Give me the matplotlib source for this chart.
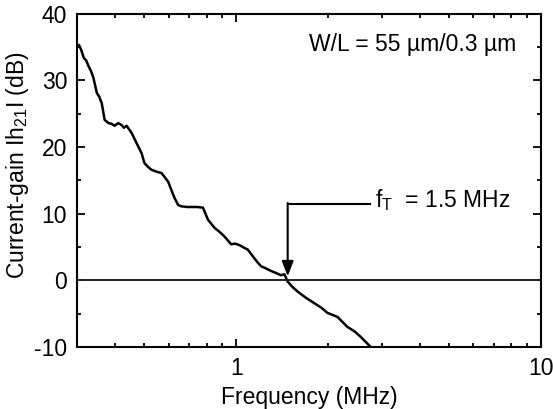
import numpy as np
import matplotlib.pyplot as plt
from matplotlib.ticker import FixedLocator, LogLocator, MultipleLocator, NullFormatter

plt.rcParams['font.family'] = ['Liberation Sans', 'DejaVu Sans']
plt.rcParams['mathtext.fontset'] = 'custom'
plt.rcParams['mathtext.rm'] = 'Liberation Sans'
plt.rcParams['mathtext.it'] = 'Liberation Sans:italic'
plt.rcParams['axes.unicode_minus'] = False

# measured |h21| vs frequency
freq_mhz = [0.305, 0.310, 0.316, 0.322, 0.328, 0.334, 0.340, 0.349, 0.355, 0.362,
            0.370, 0.381, 0.390, 0.399, 0.410, 0.421, 0.428, 0.437, 0.454, 0.471,
            0.489, 0.500, 0.514, 0.527, 0.548, 0.569, 0.598, 0.627, 0.645, 0.661,
            0.690, 0.713, 0.745, 0.778, 0.808, 0.848, 0.880, 0.914, 0.963, 0.990,
            1.023, 1.060, 1.092, 1.134, 1.170, 1.207, 1.250, 1.301, 1.350, 1.403,
            1.440, 1.476, 1.530, 1.591, 1.690, 1.798, 1.900, 1.994, 2.149, 2.317,
            2.450, 2.562, 2.680, 2.762]
gain_db = [35.3, 34.6, 33.4, 33.0, 32.1, 31.4, 30.4, 28.1, 27.6, 26.6,
           24.1, 23.6, 23.5, 23.2, 23.6, 23.3, 22.9, 23.2, 22.1, 20.6,
           19.1, 17.6, 17.0, 16.6, 16.3, 16.1, 14.8, 12.4, 11.3, 11.1,
           11.0, 11.0, 11.0, 10.9, 9.1, 7.9, 7.3, 6.6, 5.4, 5.5,
           5.3, 4.9, 4.6, 3.6, 2.8, 2.1, 1.8, 1.4, 1.1, 0.75,
           0.9, -0.2, -1.0, -1.7, -2.6, -3.4, -4.1, -4.9, -5.5, -7.0,
           -7.7, -8.5, -9.4, -10.0]

f_t = 1.476
label_y = 11.5
fs = 16.5

fig = plt.figure(figsize=(5.53, 4.09), dpi=100)
ax = fig.add_axes([0.139, 0.152, 0.839, 0.814])

ax.plot(freq_mhz, gain_db, color='black', lw=1.8)
ax.axhline(0, color='#222222', lw=1.4)

# f_T marker
ax.plot([f_t, 2.75], [label_y, label_y], color='black', lw=1.5)
ax.annotate('', xy=(f_t, 0.6), xytext=(f_t, label_y + 0.1),
            arrowprops=dict(arrowstyle='-|>,head_length=0.9,head_width=0.35',
                            color='black', lw=1.5, shrinkA=0, shrinkB=0))
ax.text(2.85, 12.1, r'f$_{\mathrm{T}}$  = 1.5 MHz', fontsize=fs, va='center', ha='left')
ax.text(8.3, 35.4, 'W/L = 55 µm/0.3 µm', fontsize=fs, va='center', ha='right')

ax.set_xscale('log')
ax.set_xlim(0.3, 10)
ax.set_ylim(-10, 40)
ax.xaxis.set_major_locator(FixedLocator([1, 10]))
ax.xaxis.set_major_formatter(plt.FuncFormatter(lambda v, p: '%g' % v))
ax.xaxis.set_minor_locator(LogLocator(base=10, subs=np.arange(2, 10)))
ax.xaxis.set_minor_formatter(NullFormatter())
ax.yaxis.set_major_locator(MultipleLocator(10))
ax.yaxis.set_minor_locator(MultipleLocator(5))

ax.tick_params(which='both', direction='in', top=True, right=True, labelsize=fs, width=1.3)
ax.tick_params(which='major', length=6, pad=7)
ax.tick_params(which='minor', length=3)
for s in ax.spines.values():
    s.set_linewidth(1.5)

ax.set_xlabel('Frequency (MHz)', fontsize=fs, labelpad=5)
ax.set_ylabel('Current-gain Ih$_{21}$I (dB)', fontsize=fs)
ax.yaxis.set_label_coords(-0.098, 0.547)

fig.savefig('out.png', dpi=100)
